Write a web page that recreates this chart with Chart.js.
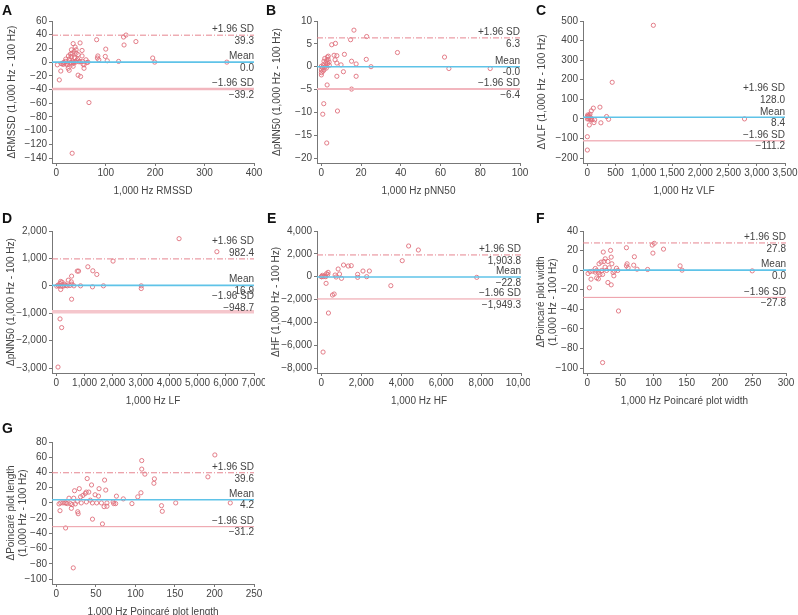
<!DOCTYPE html>
<html><head><meta charset="utf-8">
<script src="https://cdn.jsdelivr.net/npm/chart.js@4/dist/chart.umd.min.js"></script>
<style>
html,body{margin:0;padding:0;background:#fff;overflow:hidden;width:798px;height:615px;}
canvas{position:absolute;}
.lt{position:absolute;font:bold 14px "Liberation Sans",Arial,sans-serif;color:#111;line-height:14px;}
</style></head><body>
<canvas id="cA" width="265" height="200" style="left:0;top:0"></canvas>
<canvas id="cB" width="265" height="200" style="left:265px;top:0"></canvas>
<canvas id="cC" width="268" height="200" style="left:530px;top:0"></canvas>
<canvas id="cD" width="265" height="200" style="left:0;top:210px"></canvas>
<canvas id="cE" width="265" height="200" style="left:265px;top:210px"></canvas>
<canvas id="cF" width="268" height="200" style="left:530px;top:210px"></canvas>
<canvas id="cG" width="265" height="200" style="left:0;top:421px"></canvas>
<div class="lt" style="left:2px;top:3px">A</div>
<div class="lt" style="left:266px;top:3px">B</div>
<div class="lt" style="left:536px;top:3px">C</div>
<div class="lt" style="left:2px;top:211px">D</div>
<div class="lt" style="left:267px;top:211px">E</div>
<div class="lt" style="left:536px;top:211px">F</div>
<div class="lt" style="left:2px;top:421px">G</div>
<script>
// ---- Panel A: RMSSD ----
const aX=[2,6,9,12.6,15,18.5,19,22,24,24.5,26,27,28.5,30,31,32,34,34,36,36.4,38,40,42,43,44,48,49,52,52,53,54,56,56,60,62,64,66,81.5,83,84,86,99,100,103,126,137,136,141,161,195,199,345,32,10.6,14,16.5,20.5,26.5,30,35,39,46,48,34,38,26,30.5,38,40,44];
const aY=[-4,-26,-13,-1.5,-0.5,1,4.4,-4,-9,9,-12,2,11.7,8,-3,13,27,-6,15.6,6.8,1,13,2,4.4,-19,28,-21,17,9,1,-3,-4,-9,3.4,-0.5,0,-59,32.7,6,9,3.4,8.3,19,2,1,25,36.6,39.5,30,6,0,0,-133,-2.4,-3.4,-1.5,-2.4,-1.5,-0.5,-1.5,0,0.5,1,0.5,6,4.4,18,22,18,11];
const aXTicks=[0,100,200,300,400];
const aYTicks=[-140,-120,-100,-80,-60,-40,-20,0,20,40,60];
const aLines=[39.3,0.0,-39.2];
const aLabels=["39.3","0.0","−39.2"];
// ---- Panel B: pNN50 ----
const bX=[16.4,22.8,14.7,7.1,5.2,38.3,62,64.2,85,25,22.6,17.5,15.2,11.6,11.1,17.5,7.8,15.2,2.9,8.1,1.2,0.7,2.7,9.9,7.8,7.8,6.4,6.9,0,0,0,0,0.5,1,1.3,1.7,2.2,2.4,2.7,3,3.4,3.5,3.9,4,1.3,0.8,1.8,2.5,3.2];
const bY=[8,6.6,5.9,5.1,4.8,3.1,2.1,-0.4,-0.4,0,1.6,0.6,1.2,2.7,-1.1,-2.1,-2.1,-4.9,-4,-9.7,-8.1,-10.4,-16.7,0.4,0.8,2.4,2.5,1.5,0.1,-0.7,-1.3,-1.8,-0.2,0.4,1.2,1.8,0.8,0.2,1.3,2.1,1.6,2.3,1,0.3,-0.7,-1,-0.1,-0.3,0.7];
const bXTicks=[0,20,40,60,80,100];
const bYTicks=[-20,-15,-10,-5,0,5,10];
const bLines=[6.3,0.0,-4.9];
const bLabels=["6.3","-0.0","−6.4"];
// ---- Panel C: VLF ----
const cX=[1169,440,223,106,70,47,18,0,30,35,0,0,340,376,240,130,117,0,23,47,70,82,2783,6,35,59];
const cY=[478,187,60,55,41,24,15,12,8.5,-31,-91,-159,12,-2,-20,-5,-19,0,0,0,3,-5,0,20,17,-5];
const cXTicks=[0,500,1000,1500,2000,2500,3000,3500];
const cYTicks=[-200,-100,0,100,200,300,400,500];
const cLines=[128.0,8.4,-111.2];
const cLabels=["128.0","8.4","−111.2"];
// ---- Panel D: LF ----
const dX=[4346,5685,2008,1116,1292,1433,740,787,540,423,529,552,153,200,130,59,12,82,153,153,857,1280,1668,540,130,188,59,3007,3007,270,388,481,622,294,340,223];
const dY=[1720,1244,902,695,549,415,537,537,354,207,146,61,159,134,85,24,-12,0,-12,-134,0,-37,0,-488,-1207,-1524,-2963,0,-98,0,0,12,0,61,12,-12];
const dXTicks=[0,1000,2000,3000,4000,5000,6000,7000];
const dYTicks=[-3000,-2000,-1000,0,1000,2000];
const dLines=[982.4,16.9,-948.7];
const dLabels=["982.4","16.9","−948.7"];
const dLabelAt=[1415,24,-585];
// ---- Panel E: HF ----
const eX=[4370,4857,4050,7782,3479,2403,2084,2269,1815,1815,1496,1345,1109,840,908,689,740,1008,336,319,252,235,0,84,168,218,639,555,353,84,0,50];
const eY=[2686,2336,1401,-58,-788,496,496,0,204,-58,964,934,1022,672,234,146,-29,-146,380,204,263,-584,0,0,58,0,-1518,-1606,-3182,-6599,0,117];
const eXTicks=[0,2000,4000,6000,8000,10000];
const eYTicks=[-8000,-6000,-4000,-2000,0,2000,4000];
const eLines=[1903.8,-22.8,-1949.3];
const eLabels=["1,903.8","−22.8","−1,949.3"];
// ---- Panel F: Poincaré width ----
const fX=[101,98,115,99,59,35,24,71,60,59,70,75,61.5,91,140,143,249,36,31,37,33,25,20.7,17.6,26.7,27,41,40,38.8,44,46,31,36,16.6,14,5.5,3,1,4,8,12,14,16.6,19,23,47,23,21.7,29,12];
const fY=[27.4,25.6,21.5,17.4,22.9,20.2,18.5,13.7,6.5,4.4,5.1,1,2.4,0.7,4.4,0,-0.7,13.3,8.9,6.5,2.4,8.9,8.2,6.5,3.1,11.6,-1,-5.8,-2.4,2,-0.3,-12.6,-15,-8.9,-7.9,-9.2,-18,-3.4,-1.4,-1,1.7,-0.3,-2.4,-4.4,-4.4,-41.7,-94.4,-0.3,-0.3,-2];
const fXTicks=[0,50,100,150,200,250,300];
const fYTicks=[-100,-80,-60,-40,-20,0,20,40];
const fLines=[27.8,0.0,-27.8];
const fLabels=["27.8","0.0","−27.8"];
// ---- Panel G: Poincaré length ----
const gX=[200.5,108,108,112,191.7,124,123.4,107,103,84.7,76,71.8,75,95.6,151,220,133,134,61,62.5,54,39,44.5,53.3,49,36.5,37.8,41,29,23,16,22,30.6,33.6,43,45.6,51,57,64,60.4,64,72.6,26.4,3.4,5.5,8.4,11,13.8,18,20,24,4.6,19,27,27.6,45.7,58.3,11.7,21.4,31.5,38,12.2];
const gY=[63,55.6,44.4,37.8,34.2,31.6,25.8,13.3,8,5.3,8.9,1.3,-0.9,-0.9,0,0,-3.6,-11,30,16.9,18.7,32,23.6,8.9,10.7,12.4,14.2,14.2,18.7,16,6.2,6.2,8,9.8,3.6,0,0,0,0,-4.9,-4.4,-0.9,2.2,-1.3,0,0,0,-0.9,-0.9,-2.2,-1.3,-10.2,-7.1,-11.6,-14.2,-21.3,-27.6,-32.9,-85.3,0,1.3,0];
const gXTicks=[0,50,100,150,200,250];
const gYTicks=[-100,-80,-60,-40,-20,0,20,40,60,80];
const gLines=[39.6,4.2,-31.2];
const gLabels=["39.6","4.2","−31.2"];

const limitNames=["+1.96 SD","Mean","−1.96 SD"];

const FONT="'Liberation Sans', Arial, sans-serif";
const TXT="#444";
const AXC="#777";
function fmt(v){return (v<0?"−":"")+Math.abs(v).toLocaleString("en-US");}

const labelPlugin={
  id:"baLabels",
  afterDatasetsDraw(chart){
    const o=chart.options.plugins.baLabels; if(!o) return;
    const ctx=chart.ctx, ys=chart.scales.y, r=chart.chartArea.right;
    ctx.save();
    ctx.font="10px "+FONT; ctx.fillStyle=TXT; ctx.textAlign="right"; ctx.textBaseline="middle";
    o.anchors.forEach((a,i)=>{
      const p=ys.getPixelForValue(a);
      ctx.fillText(limitNames[i],r,p-5.5);
      ctx.fillText(o.values[i],r,p+6);
    });
    ctx.restore();
  }
};

function makeChart(id,xs,ys,xt,yt,lines,labels,anchors,xTitle,yTitle,st){
  const xMin=xt[0]-0.022*(xt[xt.length-1]-xt[0]);
  const xMax=xt[xt.length-1];
  const yMin=yt[0]-0.036*(yt[yt.length-1]-yt[0]);
  const yMax=yt[yt.length-1];
  const ds=[{
    data:xs.map((x,i)=>({x:x,y:ys[i]})),
    pointRadius:2.1,pointBorderWidth:0.9,
    borderColor:"#e0707d",pointBorderColor:"#e0707d",
    backgroundColor:"rgba(0,0,0,0)",pointBackgroundColor:"rgba(0,0,0,0)",
    order:3
  }];
  const seg=(v)=>[{x:xMin,y:v},{x:xMax,y:v}];
  if(st.upper!==false){
    ds.push({data:seg(lines[0]),showLine:true,pointRadius:0,borderColor:"#e6848f",borderWidth:1,borderDash:[6,2,1,2],order:1});
  }
  ds.push({data:seg(lines[1]),showLine:true,pointRadius:0,borderColor:"#5fc3e8",borderWidth:1.6,order:0});
  ds.push({data:seg(lines[2]),showLine:true,pointRadius:0,borderColor:st.lowC||"#f2b6be",borderWidth:st.lowW||2,order:1});
  const tickFont={family:FONT,size:10};
  new Chart(document.getElementById(id),{
    type:"scatter",
    data:{datasets:ds},
    plugins:[labelPlugin],
    options:{
      responsive:false,animation:false,devicePixelRatio:1,events:[],
      layout:{padding:{top:21,right:st.pr,bottom:0,left:0}},
      plugins:{legend:{display:false},tooltip:{enabled:false},
        baLabels:{anchors:anchors,values:labels}},
      scales:{
        x:{type:"linear",min:xMin,max:xMax,
          afterBuildTicks:s=>{s.ticks=xt.map(v=>({value:v}));},
          afterFit:s=>{s.height=37;s.paddingLeft=0;s.paddingRight=0;},
          grid:{display:true,drawOnChartArea:false,drawTicks:true,tickLength:3,color:AXC},
          border:{display:true,color:AXC,width:1},
          ticks:{font:tickFont,color:TXT,padding:1,maxRotation:0,autoSkip:false,callback:v=>fmt(v)},
          title:{display:true,text:xTitle,font:{family:FONT,size:10},color:TXT,padding:{top:3,bottom:3}}
        },
        y:{type:"linear",min:yMin,max:yMax,
          afterBuildTicks:s=>{s.ticks=yt.map(v=>({value:v}));},
          afterFit:s=>{s.width=st.yw||52;s.paddingTop=0;s.paddingBottom=0;},
          grid:{display:true,drawOnChartArea:false,drawTicks:true,tickLength:3,color:AXC},
          border:{display:true,color:AXC,width:1},
          ticks:{font:tickFont,color:TXT,padding:2,autoSkip:false,callback:v=>fmt(v)},
          title:{display:true,text:yTitle,font:{family:FONT,size:10},color:TXT,padding:{top:st.tp||6,bottom:0}}
        }
      }
    }
  });
}

makeChart("cA",aX,aY,aXTicks,aYTicks,aLines,aLabels,aLines,"1,000 Hz RMSSD","ΔRMSSD (1,000 Hz - 100 Hz)",{pr:11,lowW:2.5});
makeChart("cB",bX,bY,bXTicks,bYTicks,bLines,bLabels,bLines,"1,000 Hz pNN50","ΔpNN50 (1,000 Hz - 100 Hz)",{pr:10,lowW:2});
makeChart("cC",cX,cY,cXTicks,cYTicks,cLines,cLabels,cLines,"1,000 Hz VLF","ΔVLF (1,000 Hz - 100 Hz)",{pr:13,upper:false,lowW:1.5,yw:53});
makeChart("cD",dX,dY,dXTicks,dYTicks,dLines,dLabels,dLabelAt,"1,000 Hz LF","ΔpNN50 (1,000 Hz - 100 Hz)",{pr:11,lowW:3.5,lowC:"#f5c6cc",tp:5});
makeChart("cE",eX,eY,eXTicks,eYTicks,eLines,eLabels,eLines,"1,000 Hz HF","ΔHF (1,000 Hz - 100 Hz)",{pr:9,lowW:1,lowC:"#ec9aa4",tp:5});
makeChart("cF",fX,fY,fXTicks,fYTicks,fLines,fLabels,fLines,"1,000 Hz Poincaré plot width",["ΔPoincaré plot width","(1,000 Hz - 100 Hz)"],{pr:12,lowW:1,lowC:"#ec9aa4",yw:53,tp:5});
makeChart("cG",gX,gY,gXTicks,gYTicks,gLines,gLabels,gLines,"1,000 Hz Poincaré plot length",["ΔPoincaré plot length","(1,000 Hz - 100 Hz)"],{pr:11,lowW:1,lowC:"#ec9aa4",tp:5});
</script>
</body></html>
